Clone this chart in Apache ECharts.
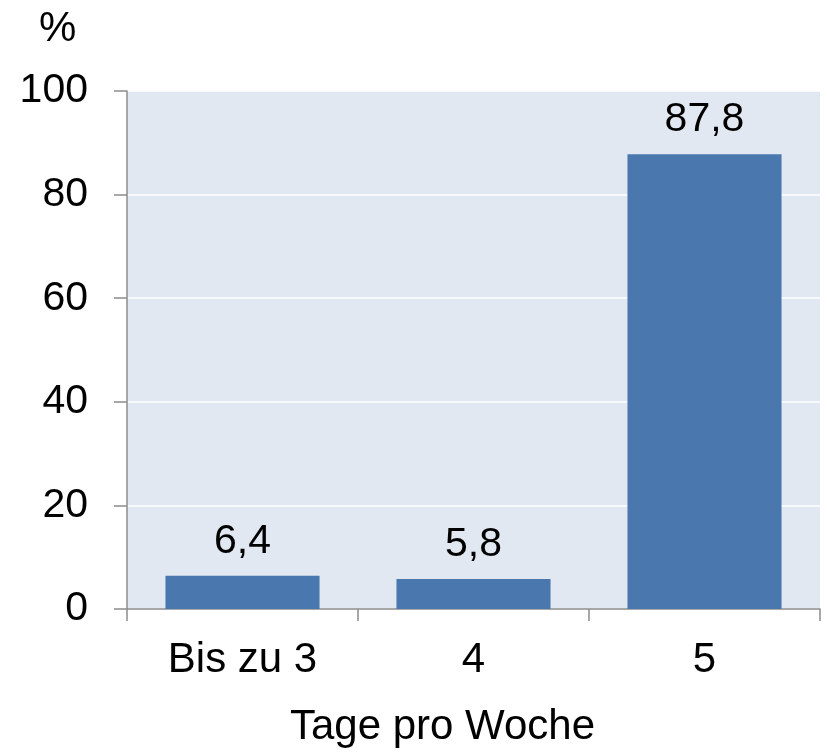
<!DOCTYPE html>
<html>
<head>
<meta charset="utf-8">
<script src="https://cdn.jsdelivr.net/npm/echarts@6/dist/echarts.min.js"></script>
<style>
  html, body { margin: 0; padding: 0; background: #fff; }
  #chart { width: 827px; height: 752px; }
</style>
</head>
<body>
<div id="chart"></div>
<script>
// Arbeitstage pro Woche – Anteile in Prozent
const categories = ['Bis zu 3', '4', '5'];
const shares = [6.4, 5.8, 87.8];
const yTicks = [0, 20, 40, 60, 80, 100];

const font = '"Liberation Sans", Arial, sans-serif';
const chart = echarts.init(document.getElementById('chart'));

chart.setOption({
  animation: false,
  textStyle: { fontFamily: font },
  graphic: [{
    type: 'text',
    left: 39,
    top: 8,
    style: { text: '%', fontSize: 42, fontFamily: font, fill: '#000' }
  }],
  grid: {
    left: 127, right: 7, top: 91, bottom: 143,
    outerBoundsMode: 'none',
    containLabel: false,
    show: true,
    backgroundColor: '#E2E8F1',
    borderWidth: 0
  },
  xAxis: {
    type: 'category',
    data: categories,
    name: 'Tage pro Woche',
    nameLocation: 'middle',
    nameGap: 97,
    nameTextStyle: { fontSize: 42, color: '#000', fontFamily: font, padding: [0, 62, 0, 0] },
    axisLine: { lineStyle: { color: '#8c8c8c', width: 1.5 } },
    axisTick: { show: true, length: 12, lineStyle: { color: '#8c8c8c', width: 1.5 } },
    axisLabel: { fontSize: 42, color: '#000', margin: 30, fontFamily: font }
  },
  yAxis: {
    type: 'value',
    min: yTicks[0],
    max: yTicks[yTicks.length - 1],
    interval: yTicks[1] - yTicks[0],
    axisLine: { show: true, lineStyle: { color: '#8c8c8c', width: 1.5 } },
    axisTick: { show: true, length: 13, lineStyle: { color: '#8c8c8c', width: 1.5 } },
    axisLabel: { fontSize: 41, color: '#000', margin: 39, fontFamily: font },
    splitLine: { show: true, lineStyle: { color: '#ffffff', width: 1.5 } }
  },
  series: [{
    type: 'bar',
    data: shares,
    barWidth: '66.7%',
    itemStyle: { color: '#4A78AE' },
    label: {
      show: true,
      position: 'top',
      distance: 14,
      fontSize: 41,
      color: '#000',
      fontFamily: font,
      formatter: p => String(p.value).replace('.', ',')
    }
  }]
});
</script>
</body>
</html>
